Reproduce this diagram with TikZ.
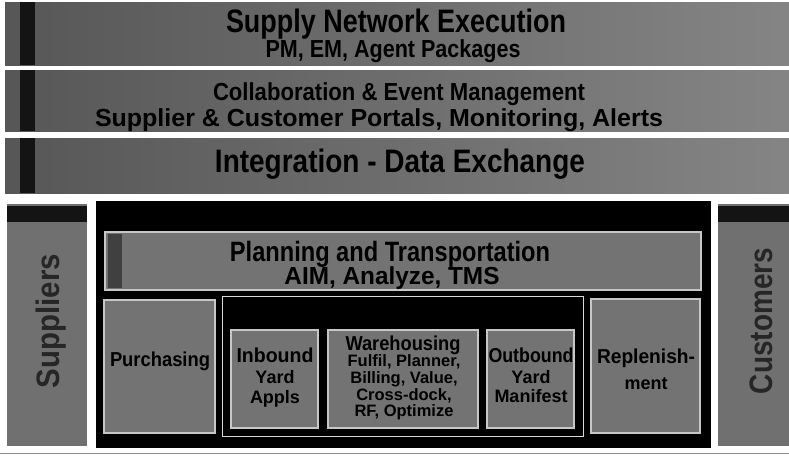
\documentclass[tikz,border=0pt]{standalone}
\usepackage{fontspec}
\setmainfont{Liberation Sans}
\newcommand\fitw[2]{\resizebox{#1}{1.12\height}{#2}}
\begin{document}
\begin{tikzpicture}[x=1pt,y=-1pt,
  band/.style={rectangle, draw=none, left color=black!66, right color=black!48, inner sep=0pt, outer sep=0pt},
  side/.style={rectangle, draw=none, fill=black!56, inner sep=0pt, outer sep=0pt},
  blackbox/.style={rectangle, draw=none, fill=black, inner sep=0pt, outer sep=0pt},
  framebox/.style={rectangle, draw=white!85!black, line width=0.9pt, fill=black, inner sep=0pt, outer sep=0pt},
  gbox/.style={rectangle, draw=white!78!black, line width=1.4pt, fill=black!55, inner sep=0pt, outer sep=0pt},
  strip/.style={draw=none, fill=black!92},
  btitle/.style={anchor=base, inner sep=0pt, text=black, font=\fontsize{29}{31}\selectfont\bfseries},
  bsub/.style={anchor=base, inner sep=0pt, text=black, font=\fontsize{22}{24}\selectfont\bfseries},
  blabel/.style={anchor=base, inner sep=0pt, text=black, font=\fontsize{18}{20}\selectfont\bfseries},
  slabel/.style={anchor=base, inner sep=0pt, text=black, font=\fontsize{16.5}{18}\selectfont\bfseries},
  vlabel/.style={anchor=base, inner sep=0pt, rotate=90, text=black!85, font=\fontsize{29}{31}\selectfont\bfseries}
]
\useasboundingbox (0,0) rectangle (789,455);
\fill[white] (0,0) rectangle (789,455);

% --- top bands ---
\node[band, minimum width=784pt, minimum height=63pt] (b1) at (397,33.5) {};
\node[band, minimum width=784pt, minimum height=61pt] (b2) at (397,100.5) {};
\node[band, minimum width=784pt, minimum height=55pt] (b3) at (397,165.5) {};
\fill[strip] (20,2) rectangle (35,65);
\fill[strip] (20,70) rectangle (35,131);
\fill[strip] (20,138) rectangle (35,193);

\node[btitle] (t1) at (396,32) {\fitw{340pt}{Supply Network Execution}};
\node[bsub] (t1b) at (393,57) {\fitw{255pt}{PM, EM, Agent Packages}};
\node[bsub] (t2) at (399,100) {\fitw{372pt}{Collaboration \& Event Management}};
\node[bsub] (t2b) at (379,126) {\fitw{568pt}{Supplier \& Customer Portals, Monitoring, Alerts}};
\node[btitle] (t3) at (400,172) {\fitw{370pt}{Integration - Data Exchange}};

% --- side columns ---
\node[side, minimum width=80pt, minimum height=242pt] (sup) at (47,325) {};
\node[side, minimum width=71pt, minimum height=242pt] (cus) at (753.5,325) {};
\fill[strip] (7,206) rectangle (87,222);
\fill[strip] (718,206) rectangle (789,222);
\node[vlabel] (supT) at (59,321) {\fitw{134pt}{Suppliers}};
\node[vlabel] (cusT) at (772,321) {\fitw{146pt}{Customers}};

% --- central black box ---
\node[blackbox, minimum width=615pt, minimum height=247pt] (core) at (403.5,324.5) {};

\node[gbox, minimum width=596pt, minimum height=58pt] (plan) at (403,261) {};
\fill[black!75] (108,234) rectangle (122,288);
\node[btitle, font=\fontsize{25}{27}\selectfont\bfseries] (planT) at (390,261) {\fitw{320pt}{Planning and Transportation}};
\node[bsub] (planS) at (392,284) {\fitw{215pt}{AIM, Analyze, TMS}};

\node[gbox, minimum width=111pt, minimum height=133pt] (pur) at (159.5,366.5) {};
\node[blabel] (purT) at (160,366) {\fitw{100pt}{Purchasing}};

\node[framebox, minimum width=361pt, minimum height=140pt] (exec) at (402.5,366) {};

\node[gbox, minimum width=87pt, minimum height=98pt] (inb) at (274.5,379) {};
\node[blabel] (inb1) at (275,362) {\fitw{77pt}{Inbound}};
\node[blabel] (inb2) at (275,383) {Yard};
\node[blabel] (inb3) at (275,403) {Appls};

\node[gbox, minimum width=150pt, minimum height=98pt] (wh) at (403,379) {};
\node[blabel] (wh1) at (403,350) {\fitw{115pt}{Warehousing}};
\node[slabel] (wh2) at (404,366) {Fulfil, Planner,};
\node[slabel] (wh3) at (404,383) {Billing, Value,};
\node[slabel] (wh4) at (404,400) {Cross-dock,};
\node[slabel] (wh5) at (404,416) {RF, Optimize};

\node[gbox, minimum width=87pt, minimum height=98pt] (outb) at (530.5,379) {};
\node[blabel] (out1) at (531,362) {\fitw{85pt}{Outbound}};
\node[blabel] (out2) at (531,383) {Yard};
\node[blabel] (out3) at (531,402) {Manifest};

\node[gbox, minimum width=109pt, minimum height=134pt] (rep) at (645.5,366) {};
\node[blabel] (rep1) at (646,363) {\fitw{98pt}{Replenish-}};
\node[blabel] (rep2) at (646,389) {ment};

% bottom rule
\draw[black!45, line width=1pt] (0,453) -- (789,453);
\end{tikzpicture}
\end{document}
